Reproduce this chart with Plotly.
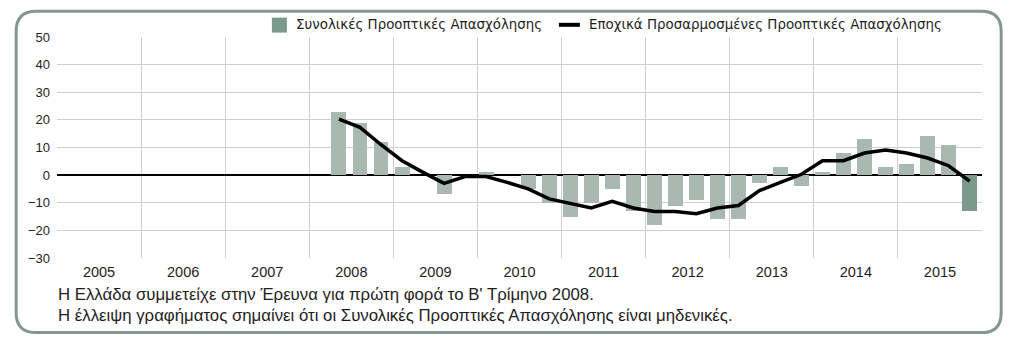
import plotly.graph_objects as go

# ---------------- data ----------------
years = [2005, 2006, 2007, 2008, 2009, 2010, 2011, 2012, 2013, 2014, 2015]
year_labels = ["2005", "2006", "2007", "2008", "2009", "2010", "2011", "2012", "2013", "2014", "2015"]
quarters = ["2008Q2", "2008Q3", "2008Q4",
            "2009Q1", "2009Q2", "2009Q3", "2009Q4",
            "2010Q1", "2010Q2", "2010Q3", "2010Q4",
            "2011Q1", "2011Q2", "2011Q3", "2011Q4",
            "2012Q1", "2012Q2", "2012Q3", "2012Q4",
            "2013Q1", "2013Q2", "2013Q3", "2013Q4",
            "2014Q1", "2014Q2", "2014Q3", "2014Q4",
            "2015Q1", "2015Q2", "2015Q3", "2015Q4"]
total_outlook = [23, 19, 12,
                 3, 0, -7, 0,
                 1, 0, -5, -10,
                 -15, -10, -5, -13,
                 -18, -11, -9, -16,
                 -16, -3, 3, -4,
                 1, 8, 13, 3,
                 4, 14, 11, -13]
seasonal_outlook = [20.3, 17.3, 11.0,
                    5.2, 1.0, -3.0, -0.5,
                    -0.5, -2.6, -5.0, -8.6,
                    -10.4, -11.9, -9.5, -11.9,
                    -13.2, -13.2, -14.0, -11.9,
                    -11.0, -5.6, -2.6, 0.3,
                    5.2, 5.2, 8.0, 9.1,
                    8.0, 6.2, 3.4, -2.2]
legend_bar = "Συνολικές Προοπτικές Απασχόλησης"
legend_line = "Εποχικά Προσαρμοσμένες Προοπτικές Απασχόλησης"
notes = ["Η Ελλάδα συμμετείχε στην Έρευνα για πρώτη φορά το Β' Τρίμηνο 2008.",
         "Η έλλειψη γραφήματος σημαίνει ότι οι Συνολικές Προοπτικές Απασχόλησης είναι μηδενικές."]

# ---------------- styling ----------------
BAR_LIGHT = "#a9b9b1"
BAR_DARK = "#7b998c"
FRAME = "#82988f"
GRID = "#cfcfcf"
TXT = "#1e1e1e"

OFF = 8                                  # page body margin of the browser
W, H = 1024 - 2 * OFF, 355 - 2 * OFF     # figure size
L, R, T, B = 56.6, 982.5, 36.7, 258.0    # plot area in screen pixels


def px2x(px):
    return (px - L) / (R - L)


def px2y(py):
    return (B - py) / (B - T)


def qpos(q):
    y = int(q[:4])
    n = int(q[-1])
    return y + (n - 0.5) / 4 - 0.022


xs = [qpos(q) for q in quarters]
colors = [BAR_LIGHT] * len(quarters)
colors[-1] = BAR_DARK

fig = go.Figure()
fig.add_trace(go.Bar(x=xs, y=total_outlook, width=0.178, marker=dict(color=colors, line=dict(width=0)),
                     name=legend_bar, hoverinfo="x+y"))
fig.add_trace(go.Scatter(x=xs, y=seasonal_outlook, mode="lines", line=dict(color="black", width=3.5),
                         name=legend_line))

# ---------------- frame (rounded rectangle) ----------------
fx0, fx1, fy0, fy1, rad = 15.7, 1001.7, 11.0, 332.7, 20.0
pts = [
    ("M", (fx0 + rad, fy0)),
    ("L", (fx1 - rad, fy0)),
    ("Q", (fx1, fy0), (fx1, fy0 + rad)),
    ("L", (fx1, fy1 - rad)),
    ("Q", (fx1, fy1), (fx1 - rad, fy1)),
    ("L", (fx0 + rad, fy1)),
    ("Q", (fx0, fy1), (fx0, fy1 - rad)),
    ("L", (fx0, fy0 + rad)),
    ("Q", (fx0, fy0), (fx0 + rad, fy0)),
]
path = ""
for p in pts:
    cmd = p[0]
    coords = " ".join(f"{px2x(a):.5f},{px2y(b):.5f}" for a, b in p[1:])
    path += f"{cmd} {coords} "
path += "Z"

shapes = [
    dict(type="path", xref="paper", yref="paper", path=path,
         line=dict(color=FRAME, width=3), fillcolor="rgba(0,0,0,0)", layer="above"),
    # legend symbols
    dict(type="rect", xref="paper", yref="paper",
         x0=px2x(271.7), x1=px2x(286.7), y0=px2y(32.3), y1=px2y(17.3),
         fillcolor=BAR_DARK, line=dict(width=0)),
    dict(type="line", xref="paper", yref="paper",
         x0=px2x(559), x1=px2x(580), y0=px2y(24.5), y1=px2y(24.5),
         line=dict(color="black", width=4)),
]

annotations = [
    dict(text=legend_bar, xref="paper", yref="paper", x=px2x(294), y=px2y(24.5),
         xanchor="left", yanchor="middle", showarrow=False,
         font=dict(family="DejaVu Sans", size=13.4, color=TXT)),
    dict(text=legend_line, xref="paper", yref="paper", x=px2x(587), y=px2y(24.5),
         xanchor="left", yanchor="middle", showarrow=False,
         font=dict(family="DejaVu Sans", size=13.4, color=TXT)),
    dict(text=notes[0], xref="paper", yref="paper", x=px2x(56), y=px2y(295),
         xanchor="left", yanchor="middle", showarrow=False,
         font=dict(family="Liberation Sans", size=16.8, color=TXT)),
    dict(text=notes[1], xref="paper", yref="paper", x=px2x(56), y=px2y(316),
         xanchor="left", yanchor="middle", showarrow=False,
         font=dict(family="Liberation Sans", size=16.8, color=TXT)),
]

fig.update_layout(
    width=W, height=H,
    margin=dict(l=L - OFF, r=W - (R - OFF), t=T - OFF, b=H - (B - OFF), pad=0),
    paper_bgcolor="white", plot_bgcolor="white",
    showlegend=False,
    bargap=0,
    shapes=shapes,
    annotations=annotations,
    xaxis=dict(range=[2005, 2016], tickmode="array",
               tickvals=[y + 0.5 for y in years], ticktext=year_labels,
               showgrid=False, zeroline=False, ticks="", showline=False,
               ticklabelstandoff=3,
               tickfont=dict(family="Liberation Sans", size=14.5, color=TXT),
               minor=dict(tickmode="array", tickvals=list(range(2005, 2017)),
                          showgrid=True, gridcolor=GRID, gridwidth=1, ticks="")),
    yaxis=dict(range=[-30, 50], tickmode="linear", tick0=-30, dtick=10,
               showgrid=True, gridcolor=GRID, gridwidth=1,
               zeroline=True, zerolinecolor="black", zerolinewidth=1.6,
               ticks="", showline=False, ticklabelstandoff=6,
               tickfont=dict(family="Liberation Sans", size=13, color=TXT)),
)

fig.write_html("out.html")
